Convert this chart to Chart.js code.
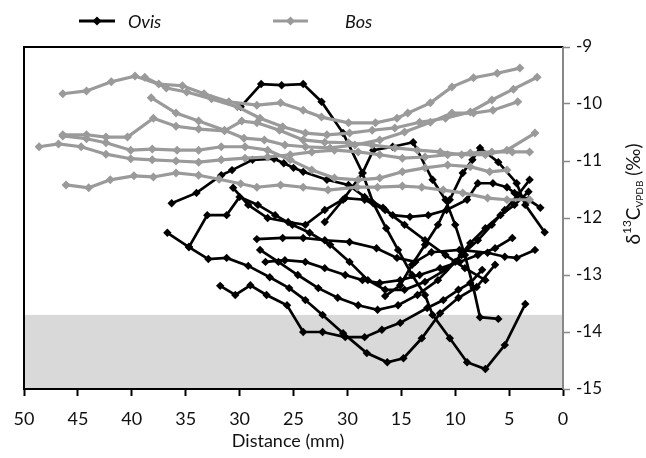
<!DOCTYPE html>
<html>
<head>
<meta charset="utf-8">
<script src="https://cdn.jsdelivr.net/npm/chart.js@4.4.1/dist/chart.umd.min.js"></script>
<style>
  html, body { margin: 0; padding: 0; background: #fff; }
  #wrap { width: 646px; height: 458px; position: relative; }
</style>
</head>
<body>
<div id="wrap"><canvas id="c" width="646" height="458"></canvas></div>
<script>
// ---- tick labels (as printed on the original) ----
const xTickLabels = ['50', '45', '40', '35', '30', '25', '30', '15', '10', '5', '0'];
const yTickValues = [-9, -10, -11, -12, -13, -14, -15];
const shadedBand = [-13.7, -15];

// ---- Ovis (black) series: distance (mm) and d13C ----
const ovis1Mm = [29.9, 28.0, 26.1, 24.1, 22.4, 20.4, 18.6, 17.6, 16.4, 15.3, 14.0, 12.8, 12.1, 10.5, 8.9, 7.2, 5.4, 3.5];
const ovis1C = [-10.05, -9.65, -9.67, -9.65, -9.96, -10.51, -11.21, -11.74, -12.18, -12.56, -13.0, -13.35, -13.7, -14.11, -14.53, -14.65, -14.23, -13.51];
const ovis2Mm = [36.3, 34.0, 31.7, 30.7, 28.8, 26.8, 25.9, 25.0, 24.1, 21.9, 19.9, 18.4, 16.7, 15.8, 14.2, 12.5, 10.8, 8.9, 7.9, 6.5, 5.2, 4.5, 3.2, 2.1];
const ovis2C = [-11.74, -11.56, -11.25, -11.16, -10.98, -10.96, -11.04, -11.12, -11.19, -11.33, -11.42, -11.63, -11.82, -11.95, -11.98, -11.95, -11.86, -11.68, -11.39, -11.39, -11.46, -11.56, -11.68, -11.82];
const ovis3Mm = [36.7, 34.7, 32.9, 31.2, 29.2, 27.2, 25.4, 23.9, 22.3, 20.4, 18.2, 16.3, 14.8, 13.1, 11.4, 9.7, 8.0, 6.3];
const ovis3C = [-12.26, -12.51, -12.72, -12.70, -12.84, -13.04, -13.23, -13.44, -13.70, -14.02, -14.37, -14.53, -14.46, -14.11, -13.67, -13.40, -13.21, -12.82];
const ovis4Mm = [31.8, 30.4, 29.0, 27.5, 25.6, 24.1, 22.3, 20.2, 18.4, 16.8, 15.1, 12.6, 11.1, 9.7, 8.6, 7.5];
const ovis4C = [-13.19, -13.35, -13.18, -13.35, -13.53, -14.0, -14.0, -14.09, -14.09, -13.96, -13.84, -13.58, -13.44, -13.26, -13.14, -12.91];
const ovis5Mm = [34.7, 33.0, 31.2, 30.0, 28.3, 26.7, 25.1, 23.5, 21.6, 19.8, 18.1, 16.5, 14.7, 12.8, 10.9, 9.4, 7.9, 6.6, 5.4, 4.2, 3.1];
const ovis5C = [-12.51, -11.95, -11.95, -11.63, -11.77, -11.95, -12.12, -12.26, -12.47, -12.77, -13.09, -13.26, -13.26, -13.12, -12.91, -12.65, -12.39, -12.12, -11.86, -11.6, -11.33];
const ovis6Mm = [28.4, 26.0, 24.1, 22.1, 19.8, 17.3, 15.4, 13.7, 12.2, 9.6, 7.0, 5.4, 4.3, 2.6];
const ovis6C = [-12.37, -12.35, -12.35, -12.39, -12.42, -12.53, -12.70, -12.77, -12.60, -12.56, -12.61, -12.68, -12.70, -12.56];
const ovis7Mm = [28.1, 26.4, 24.6, 22.7, 20.9, 19.0, 17.2, 15.3, 13.5, 11.6, 10.0, 8.6, 7.2, 5.8, 4.5, 3.2];
const ovis7C = [-12.56, -12.77, -13.0, -13.23, -13.40, -13.53, -13.61, -13.53, -13.35, -13.09, -12.77, -12.44, -12.18, -11.95, -11.77, -11.54];
const ovis8Mm = [22.1, 20.4, 18.6, 17.6, 15.8, 13.9, 12.1, 10.9, 10.0, 9.1, 8.3, 7.7, 6.0];
const ovis8C = [-12.07, -11.68, -11.21, -10.81, -10.75, -10.67, -11.33, -11.68, -12.12, -12.65, -13.23, -13.74, -13.77];
const ovis9Mm = [16.5, 15.1, 14.0, 12.8, 11.6, 10.5, 9.3, 8.4, 7.7, 6.0, 4.3, 3.5, 1.7];
const ovis9C = [-13.37, -13.18, -12.82, -12.47, -12.12, -11.68, -11.21, -10.98, -10.77, -11.02, -11.39, -11.77, -12.25];
const ovis10Mm = [30.6, 29.2, 27.4, 25.5, 23.9, 22.1, 20.2, 18.4, 16.5, 14.7, 12.8, 10.9, 9.1, 7.2];
const ovis10C = [-11.47, -11.77, -12.0, -12.07, -12.12, -11.86, -11.65, -11.68, -11.86, -12.12, -12.39, -12.65, -12.88, -13.09];
const ovis11Mm = [27.6, 25.8, 23.9, 22.1, 20.2, 18.6, 17.0, 15.1, 13.3, 11.4, 9.6, 7.9, 6.3, 4.7];
const ovis11C = [-12.77, -12.74, -12.77, -12.88, -13.0, -13.09, -13.14, -13.09, -13.0, -12.88, -12.77, -12.65, -12.53, -12.35];

// ---- Bos (grey) series ----
const bos1Mm = [46.4, 44.2, 41.9, 39.7, 37.5, 35.3, 33.3, 31.0, 28.4, 26.2, 24.1, 22.4, 19.9, 17.4, 15.4, 14.4, 12.3, 10.3, 8.3, 6.1, 4.0];
const bos1C = [-9.82, -9.77, -9.61, -9.51, -9.65, -9.68, -9.82, -9.96, -10.02, -9.98, -10.11, -10.23, -10.33, -10.33, -10.25, -10.16, -9.98, -9.70, -9.54, -9.46, -9.37];
const bos2Mm = [38.8, 36.8, 34.9, 32.6, 30.2, 28.1, 26.0, 23.9, 21.9, 19.8, 17.7, 15.6, 13.3, 10.9, 8.6, 6.6, 4.6, 2.4];
const bos2C = [-9.53, -9.72, -9.79, -9.91, -10.05, -10.25, -10.40, -10.51, -10.54, -10.51, -10.46, -10.42, -10.32, -10.25, -10.14, -9.93, -9.74, -9.53];
const bos3Mm = [38.2, 35.9, 33.8, 31.4, 29.6, 27.7, 25.8, 23.9, 21.6, 19.3, 17.0, 14.7, 12.3, 10.3, 8.3, 6.5, 4.2];
const bos3C = [-9.89, -10.16, -10.30, -10.46, -10.60, -10.63, -10.72, -10.75, -10.77, -10.72, -10.63, -10.49, -10.32, -10.16, -10.16, -10.11, -9.96];
const bos4Mm = [46.4, 44.2, 42.4, 40.4, 38.0, 35.9, 33.8, 31.4, 29.8, 28.4, 26.3, 24.1, 22.1, 19.9, 17.7, 15.6, 13.5, 11.4, 9.4, 7.2, 5.2, 2.6];
const bos4C = [-10.54, -10.54, -10.58, -10.58, -10.25, -10.39, -10.44, -10.47, -10.30, -10.33, -10.46, -10.63, -10.67, -10.68, -10.72, -10.77, -10.81, -10.84, -10.89, -10.89, -10.81, -10.51];
const bos5Mm = [48.6, 46.8, 44.7, 42.4, 40.1, 38.1, 35.9, 33.8, 31.7, 29.5, 27.4, 25.3, 23.3, 21.2, 19.0, 17.0, 14.9, 12.8, 10.7, 8.6, 6.6, 4.7, 3.1];
const bos5C = [-10.75, -10.70, -10.75, -10.88, -10.96, -10.98, -11.00, -11.02, -10.98, -10.95, -10.93, -10.89, -10.84, -10.81, -10.84, -10.89, -10.95, -10.93, -10.89, -10.86, -10.84, -10.84, -10.84];
const bos6Mm = [46.4, 44.2, 42.4, 40.1, 38.1, 35.8, 33.8, 31.7, 29.5, 27.4, 25.3, 23.3, 21.2, 19.0, 17.0, 14.9, 12.8, 10.7, 8.6, 6.8, 5.2];
const bos6C = [-10.56, -10.61, -10.68, -10.81, -10.79, -10.81, -10.81, -10.75, -10.75, -10.81, -10.98, -11.16, -11.30, -11.33, -11.30, -11.19, -11.12, -11.07, -11.10, -11.19, -11.16];
const bos7Mm = [46.1, 44.0, 42.0, 39.8, 38.0, 35.9, 33.8, 31.9, 29.9, 28.4, 26.2, 24.1, 21.8, 19.1, 17.2, 14.9, 13.1, 11.1, 9.3, 7.0, 5.2, 3.1];
const bos7C = [-11.42, -11.47, -11.33, -11.26, -11.28, -11.21, -11.25, -11.32, -11.40, -11.46, -11.42, -11.46, -11.51, -11.46, -11.46, -11.44, -11.46, -11.51, -11.56, -11.65, -11.68, -11.68];

const ovisSeries = [
  [ovis1Mm, ovis1C], [ovis2Mm, ovis2C], [ovis3Mm, ovis3C], [ovis4Mm, ovis4C],
  [ovis5Mm, ovis5C], [ovis6Mm, ovis6C], [ovis7Mm, ovis7C], [ovis8Mm, ovis8C],
  [ovis9Mm, ovis9C], [ovis10Mm, ovis10C], [ovis11Mm, ovis11C]
];
const bosSeries = [
  [bos1Mm, bos1C], [bos2Mm, bos2C], [bos3Mm, bos3C], [bos4Mm, bos4C],
  [bos5Mm, bos5C], [bos6Mm, bos6C], [bos7Mm, bos7C]
];

const OVIS_COLOR = '#000000';
const BOS_COLOR = '#9a9a9a';
const FONT = 'Lato, "DejaVu Sans", sans-serif';

function zip(xs, ys) { return xs.map((x, i) => ({ x: x, y: ys[i] })); }
function makeSet(pair, color, order, w, r) {
  return {
    data: zip(pair[0], pair[1]),
    showLine: true,
    borderColor: color,
    backgroundColor: color,
    borderWidth: w,
    pointStyle: 'rectRot',
    pointRadius: r,
    pointBorderWidth: 0,
    pointHoverRadius: r,
    order: order,
    tension: 0
  };
}

const datasets = [];
ovisSeries.forEach(p => datasets.push(makeSet(p, OVIS_COLOR, 1, 2.7, 4.2)));
bosSeries.forEach(p => datasets.push(makeSet(p, BOS_COLOR, 0, 3.2, 4.5)));

const decor = {
  id: 'decor',
  beforeDatasetsDraw(chart) {
    const { ctx, chartArea: a, scales: { y } } = chart;
    const t = y.getPixelForValue(shadedBand[0]);
    const b = y.getPixelForValue(shadedBand[1]);
    ctx.save();
    ctx.fillStyle = '#d9d9d9';
    ctx.fillRect(a.left, t, a.right - a.left, b - t);
    ctx.restore();
  },
  afterDraw(chart) {
    const { ctx, chartArea: a } = chart;
    ctx.save();
    // frame
    ctx.strokeStyle = '#000';
    ctx.lineWidth = 2;
    ctx.beginPath();
    ctx.moveTo(a.right, a.top); ctx.lineTo(a.left, a.top); ctx.lineTo(a.left, a.bottom); ctx.lineTo(a.right, a.bottom);
    ctx.stroke();
    ctx.strokeStyle = '#888';
    ctx.beginPath(); ctx.moveTo(a.right, a.top); ctx.lineTo(a.right, a.bottom); ctx.stroke();

    // legend
    function legendItem(x0, x1, y, color, label, tx) {
      ctx.strokeStyle = color; ctx.lineWidth = 3;
      ctx.beginPath(); ctx.moveTo(x0, y); ctx.lineTo(x1, y); ctx.stroke();
      const cx = (x0 + x1) / 2, r = 4.5;
      ctx.fillStyle = color;
      ctx.beginPath(); ctx.moveTo(cx, y - r); ctx.lineTo(cx + r, y); ctx.lineTo(cx, y + r); ctx.lineTo(cx - r, y); ctx.closePath(); ctx.fill();
      ctx.fillStyle = '#111';
      ctx.font = 'italic 18px ' + FONT;
      ctx.textAlign = 'left'; ctx.textBaseline = 'middle';
      ctx.fillText(label, tx, y + 1);
    }
    legendItem(79, 115, 21, OVIS_COLOR, 'Ovis', 128);
    legendItem(273, 308, 21, BOS_COLOR, 'Bos', 345);

    // x-axis title
    ctx.fillStyle = '#111';
    ctx.font = '18px ' + FONT;
    ctx.textAlign = 'center'; ctx.textBaseline = 'middle';
    ctx.fillText('Distance (mm)', 288, 441);

    // y-axis title with super/subscripts
    const parts = [
      { t: '\u03B4', f: '19px ' + FONT, dy: 0 },
      { t: '13', f: '12px ' + FONT, dy: -7 },
      { t: 'C', f: '19px ' + FONT, dy: 0 },
      { t: 'VPDB', f: '10px ' + FONT, dy: 6 },
      { t: ' (\u2030)', f: '19px ' + FONT, dy: 0 }
    ];
    let total = 0;
    parts.forEach(p => { ctx.font = p.f; p.w = ctx.measureText(p.t).width; total += p.w; });
    ctx.translate(634, 194);
    ctx.rotate(-Math.PI / 2);
    ctx.textAlign = 'left'; ctx.textBaseline = 'middle';
    let x = -total / 2;
    parts.forEach(p => { ctx.font = p.f; ctx.fillText(p.t, x, p.dy); x += p.w; });
    ctx.restore();
  }
};

new Chart(document.getElementById('c'), {
  type: 'scatter',
  data: { datasets: datasets },
  options: {
    responsive: false,
    animation: false,
    devicePixelRatio: 1,
    layout: { padding: { top: 47, left: 24, right: 0, bottom: 0 } },
    plugins: { legend: { display: false }, tooltip: { enabled: false } },
    scales: {
      x: {
        type: 'linear', min: 0, max: 50, reverse: true,
        afterFit(s) { s.height = 69; },
        ticks: {
          stepSize: 5, color: '#111', padding: 12,
          font: { family: FONT, size: 18 },
          callback: (v) => xTickLabels[Math.round((50 - v) / 5)]
        },
        grid: { drawOnChartArea: false, drawTicks: true, tickLength: 7, color: '#000', tickWidth: 2 },
        border: { display: true, color: '#000', width: 2 },
        title: { display: false }
      },
      y: {
        type: 'linear', position: 'right', min: -15, max: -9,
        afterFit(s) { s.width = 83; },
        afterBuildTicks(s) { s.ticks = yTickValues.map(v => ({ value: v })); },
        ticks: {
          color: '#111', padding: 6,
          font: { family: FONT, size: 17 },
          callback: (v) => String(v)
        },
        grid: { drawOnChartArea: false, drawTicks: true, tickLength: 7, color: '#888', tickWidth: 1.5 },
        border: { display: true, color: '#888', width: 2 }
      }
    }
  },
  plugins: [decor]
});
</script>
</body>
</html>
